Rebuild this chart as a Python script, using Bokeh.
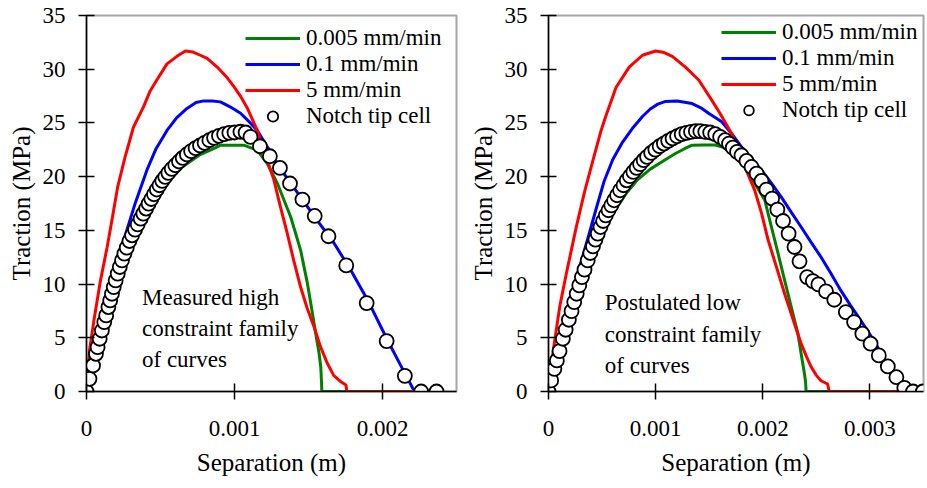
from bokeh.plotting import figure
from bokeh.layouts import row
from bokeh.models import Range1d, FixedTicker, Legend, LegendItem, Label
from bokeh.embed import file_html
from bokeh.resources import INLINE

FONT = "Liberation Serif"

# ---------------- data (separation in mm, traction in MPa) ----------------
y_ticks = [0, 5, 10, 15, 20, 25, 30, 35]
x_ticks_L = [0, 0.001, 0.002]
x_labels_L = ["0", "0.001", "0.002"]
x_ticks_R = [0, 0.001, 0.002, 0.003]
x_labels_R = ["0", "0.001", "0.002", "0.003"]
series_names = ["0.005 mm/min", "0.1 mm/min", "5 mm/min", "Notch tip cell"]

# Left panel: measured high constraint
green_L_s = [0, 0.05, 0.10, 0.15, 0.20, 0.25, 0.30, 0.35, 0.40, 0.45, 0.49, 0.557, 0.647, 0.761, 0.873, 0.905, 1.063, 1.154, 1.222, 1.29, 1.38, 1.447, 1.493, 1.527, 1.549, 1.572, 1.583, 1.588, 1.59, 1.76]
green_L_t = [0, 2.6, 5.2, 7.6, 10.2, 12.3, 14.0, 15.3, 16.6, 17.7, 18.4, 19.6, 20.9, 22.0, 22.7, 22.93, 22.93, 22.46, 21.2, 19.36, 16.24, 13.14, 10.04, 7.24, 5.38, 3.51, 2.26, 0.87, 0, 0]

blue_L_s = [0, 0.05, 0.10, 0.14, 0.173, 0.21, 0.263, 0.331, 0.408, 0.47, 0.544, 0.61, 0.679, 0.74, 0.792, 0.85, 0.905, 0.97, 1.041, 1.10, 1.154, 1.23, 1.30, 1.375, 1.447, 1.56, 1.673, 1.79, 1.90, 2.035, 2.12, 2.216]
blue_L_t = [0, 3.0, 6.0, 8.6, 10.6, 12.4, 14.6, 17.6, 20.6, 22.6, 24.3, 25.5, 26.35, 26.9, 27.05, 27.05, 26.96, 26.5, 25.9, 25.1, 24.3, 22.6, 20.9, 19.5, 18.1, 15.9, 13.8, 11.2, 8.5, 4.75, 2.5, 0]

red_L_s = [0, 0.02, 0.05, 0.094, 0.139, 0.175, 0.21, 0.26, 0.317, 0.385, 0.431, 0.498, 0.544, 0.611, 0.668, 0.72, 0.769, 0.815, 0.883, 0.951, 0.995, 1.04, 1.086, 1.154, 1.21, 1.266, 1.31, 1.357, 1.40, 1.447, 1.49, 1.538, 1.58, 1.628, 1.67, 1.719, 1.753, 1.759, 2.22]
red_L_t = [0, 3.8, 6.6, 10.3, 13.4, 16.2, 19.0, 21.8, 24.6, 26.5, 28.0, 29.5, 30.5, 31.2, 31.7, 31.6, 31.3, 31.0, 30.2, 29.2, 28.4, 27.5, 26.4, 24.3, 22.0, 19.7, 17.2, 14.7, 12.2, 9.7, 7.8, 6.0, 4.2, 2.6, 1.5, 0.9, 0.6, 0, 0]

cell_L_s = [0, 0.02, 0.044, 0.064, 0.075, 0.089, 0.104, 0.12, 0.133, 0.148, 0.16, 0.172, 0.184, 0.197, 0.211, 0.225, 0.24, 0.256, 0.272, 0.29, 0.308, 0.328, 0.346, 0.366, 0.384, 0.403, 0.42, 0.438, 0.456, 0.475, 0.493, 0.512, 0.532, 0.553, 0.576, 0.6, 0.625, 0.65, 0.678, 0.707, 0.737, 0.767, 0.798, 0.83, 0.862, 0.895, 0.93, 0.965, 1.0, 1.04, 1.075, 1.108, 1.172, 1.239, 1.307, 1.375, 1.459, 1.542, 1.635, 1.755, 1.893, 2.028, 2.151, 2.261, 2.365]
cell_L_t = [0, 1.18, 2.42, 3.51, 4.13, 4.91, 5.68, 6.46, 7.08, 7.86, 8.48, 9.10, 9.72, 10.34, 10.97, 11.59, 12.21, 12.83, 13.39, 14.01, 14.54, 15.07, 15.56, 16.09, 16.56, 17.03, 17.49, 17.92, 18.36, 18.80, 19.20, 19.60, 19.97, 20.35, 20.72, 21.06, 21.41, 21.74, 22.06, 22.37, 22.65, 22.90, 23.14, 23.39, 23.61, 23.79, 23.95, 24.07, 24.11, 24.18, 24.11, 23.70, 22.83, 21.90, 20.81, 19.36, 17.87, 16.34, 14.45, 11.74, 8.23, 4.69, 1.46, 0, 0]

# Right panel: postulated low constraint
green_R_s = [0, 0.05, 0.1, 0.15, 0.2, 0.25, 0.3, 0.35, 0.4, 0.45, 0.506, 0.599, 0.722, 0.83, 0.95, 1.093, 1.185, 1.27, 1.34, 1.45, 1.556, 1.64, 1.741, 1.833, 1.926, 2.019, 2.081, 2.143, 2.204, 2.266, 2.328, 2.358, 2.389, 2.40, 2.404, 2.62]
green_R_t = [0, 1.8, 3.6, 5.2, 6.8, 8.3, 9.8, 11.2, 12.4, 13.6, 14.7, 16.56, 18.4, 19.7, 20.7, 21.6, 22.15, 22.6, 22.93, 22.95, 22.95, 22.7, 21.84, 20.9, 19.36, 17.8, 15.31, 12.83, 10.34, 7.86, 5.38, 3.51, 1.65, 0.8, 0, 0]

blue_R_s = [0, 0.06, 0.12, 0.2, 0.275, 0.32, 0.383, 0.45, 0.52, 0.6, 0.69, 0.784, 0.877, 0.95, 1.02, 1.093, 1.2, 1.34, 1.432, 1.494, 1.617, 1.71, 1.801, 1.895, 1.988, 2.08, 2.173, 2.265, 2.358, 2.45, 2.543, 2.635, 2.728, 2.82, 2.914, 3.037, 3.161, 3.284, 3.30]
blue_R_t = [0, 2.6, 5.0, 8.0, 11.1, 12.6, 14.8, 17.2, 19.6, 21.6, 23.2, 24.5, 25.6, 26.3, 26.75, 27.0, 27.05, 26.8, 26.35, 25.9, 25.1, 24.0, 22.77, 21.7, 20.6, 19.4, 18.1, 16.7, 15.31, 13.9, 12.52, 11.0, 9.41, 8.0, 6.62, 4.75, 2.58, 0.4, 0]

red_R_s = [0, 0.044, 0.105, 0.167, 0.259, 0.337, 0.414, 0.491, 0.537, 0.63, 0.753, 0.877, 1.0, 1.08, 1.155, 1.278, 1.402, 1.525, 1.6, 1.71, 1.77, 1.833, 1.926, 1.988, 2.05, 2.127, 2.204, 2.296, 2.358, 2.41, 2.451, 2.5, 2.543, 2.605, 2.62, 3.28]
red_R_t = [0, 3.8, 7.9, 11.0, 15.3, 18.6, 21.5, 24.3, 25.7, 28.3, 30.2, 31.3, 31.7, 31.55, 31.2, 30.2, 29.0, 27.1, 25.9, 24.0, 22.5, 20.9, 18.7, 16.6, 14.1, 11.6, 9.1, 6.3, 4.45, 3.2, 2.3, 1.5, 1.0, 0.7, 0, 0]

cell_R_s = [0, 0.025, 0.055, 0.078, 0.103, 0.134, 0.16, 0.19, 0.215, 0.24, 0.263, 0.287, 0.312, 0.336, 0.366, 0.39, 0.415, 0.438, 0.46, 0.485, 0.51, 0.535, 0.56, 0.586, 0.612, 0.64, 0.668, 0.70, 0.73, 0.76, 0.792, 0.823, 0.855, 0.888, 0.92, 0.958, 0.997, 1.037, 1.077, 1.117, 1.158, 1.2, 1.243, 1.287, 1.33, 1.375, 1.417, 1.463, 1.509, 1.556, 1.602, 1.648, 1.685, 1.72, 1.76, 1.801, 1.848, 1.895, 1.942, 1.988, 2.034, 2.087, 2.136, 2.189, 2.241, 2.296, 2.343, 2.414, 2.467, 2.519, 2.59, 2.667, 2.775, 2.852, 2.929, 3.006, 3.083, 3.167, 3.247, 3.321, 3.402, 3.494]
cell_R_t = [0, 1.03, 2.11, 2.89, 3.76, 4.91, 5.75, 6.68, 7.48, 8.32, 9.10, 9.88, 10.65, 11.34, 12.21, 12.89, 13.51, 14.14, 14.70, 15.31, 15.87, 16.40, 16.87, 17.33, 17.80, 18.27, 18.73, 19.20, 19.66, 20.04, 20.44, 20.81, 21.16, 21.53, 21.84, 22.21, 22.52, 22.83, 23.08, 23.33, 23.55, 23.76, 23.95, 24.07, 24.17, 24.23, 24.23, 24.17, 24.11, 23.95, 23.70, 23.39, 23.08, 22.7, 22.3, 21.99, 21.46, 20.90, 20.29, 19.60, 18.80, 17.96, 16.93, 15.87, 14.70, 13.45, 12.12, 10.65, 10.28, 9.97, 9.32, 8.54, 7.39, 6.46, 5.38, 4.45, 3.36, 2.33, 1.33, 0.34, 0, 0]

note_L = ["Measured high", "constraint family", "of curves"]
note_R = ["Postulated low", "constraint family", "of curves"]


def m(vals_mm):
    return [v / 1000.0 for v in vals_mm]


def panel(width, border_left, border_right, xmax, xt, xl, green, blue, red, cell,
          notes, note_x, note_y, leg_loc, row_h):
    p = figure(width=width, height=487, x_range=Range1d(0, xmax), y_range=Range1d(0, 35),
               output_backend="svg", toolbar_location=None,
               min_border_left=border_left, min_border_right=border_right,
               min_border_top=15, min_border_bottom=96)
    p.xgrid.visible = False
    p.ygrid.visible = False
    p.outline_line_color = "#a6a6a6"
    p.outline_line_width = 2
    p.background_fill_color = "white"
    p.border_fill_color = "white"
    for ax in (p.xaxis[0], p.yaxis[0]):
        ax.axis_line_color = "black"
        ax.axis_line_width = 1.5
        ax.major_tick_line_color = "black"
        ax.major_tick_line_width = 1.5
        ax.major_tick_in = 8
        ax.major_tick_out = 8
        ax.minor_tick_line_color = None
        ax.major_label_text_font = FONT
        ax.major_label_text_font_size = "23px"
        ax.major_label_text_color = "black"
        ax.axis_label_text_font = FONT
        ax.axis_label_text_font_size = "25px"
        ax.axis_label_text_font_style = "normal"
        ax.axis_label_text_color = "black"
    p.xaxis.ticker = FixedTicker(ticks=xt)
    p.xaxis.major_label_overrides = {t: l for t, l in zip(xt, xl)}
    p.yaxis.ticker = FixedTicker(ticks=y_ticks)
    p.xaxis.axis_label = "Separation (m)"
    p.yaxis.axis_label = "Traction (MPa)"
    p.yaxis.major_label_standoff = 13
    p.yaxis.axis_label_standoff = 5
    p.xaxis.major_label_standoff = 21
    p.xaxis.axis_label_standoff = 10

    rg = p.line(m(green[0]), green[1], line_color="#008000", line_width=3)
    rb = p.line(m(blue[0]), blue[1], line_color="#0000ff", line_width=3)
    rr = p.line(m(red[0]), red[1], line_color="#ff0000", line_width=3)
    rc = p.scatter(m(cell[0]), cell[1], marker="circle", size=14, fill_color="white",
                   line_color="black", line_width=1.8)

    for txt, yy in zip(notes, note_y):
        p.add_layout(Label(x=note_x, y=yy, text=txt, text_font=FONT, text_font_size="23px",
                           text_color="black", text_baseline="alphabetic"))

    items = [LegendItem(label=n, renderers=[r]) for n, r in zip(series_names, [rg, rb, rr, rc])]
    leg = Legend(items=items, location=leg_loc, label_text_font=FONT, label_text_font_size="23px",
                 label_text_color="black", glyph_width=55, glyph_height=row_h, label_height=row_h,
                 label_standoff=6, spacing=0, padding=0, margin=0, border_line_color=None,
                 background_fill_alpha=0)
    p.add_layout(leg)
    return p


pL = panel(466, 86, 10, 0.0025, x_ticks_L, x_labels_L,
           (green_L_s, green_L_t), (blue_L_s, blue_L_t), (red_L_s, red_L_t), (cell_L_s, cell_L_t),
           note_L, 0.000375, [8.75, 5.85, 2.95], (159, 262), 26)
pR = panel(460, 79, 3, 0.0035, x_ticks_R, x_labels_R,
           (green_R_s, green_R_t), (blue_R_s, blue_R_t), (red_R_s, red_R_t), (cell_R_s, cell_R_t),
           note_R, 0.000525, [8.3, 5.35, 2.4], (173, 268), 24)

layout = row(pL, pR)
open("out.html", "w").write(file_html(layout, INLINE))
